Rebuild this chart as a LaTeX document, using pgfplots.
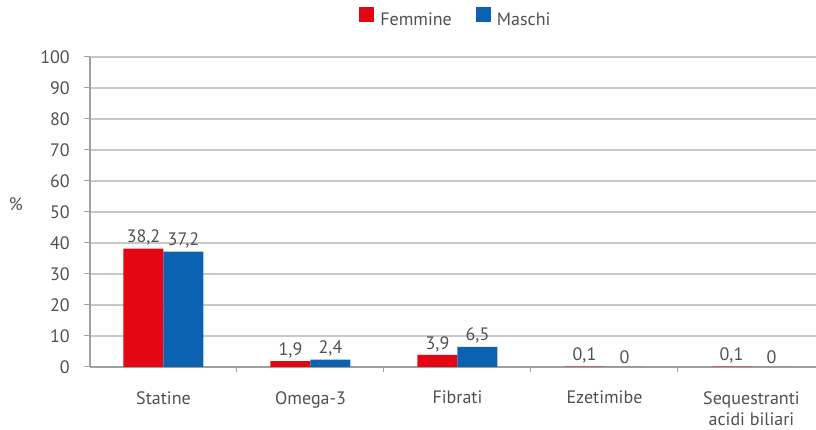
\documentclass[border=0pt]{standalone}
\usepackage{pgfplots}
\pgfplotsset{compat=1.18}
\usepackage{fontspec}
\setmainfont{PT Sans}
\definecolor{fred}{HTML}{E30613}
\definecolor{mblue}{HTML}{0A62B0}
\definecolor{txt}{HTML}{505050}
\definecolor{gridc}{HTML}{C8C8C8}
\definecolor{axc}{HTML}{A0A0A0}
\begin{document}
\fontsize{18}{21}\selectfont
\begin{tikzpicture}[x=1pt,y=1pt]
\useasboundingbox (-90,-63) rectangle (726,367);
\begin{axis}[
  at={(0,0)}, anchor=south west,
  scale only axis, width=726pt, height=310pt,
  ymin=0, ymax=100, ytick={0,10,...,100},
  xmin=-0.5, xmax=4.439,
  ybar=0pt, bar width=40pt,
  xtick={0,1,2,3,4},
  xticklabels={Statine,Omega-3,Fibrati,Ezetimibe,{Sequestranti\\acidi biliari}},
  minor xtick={0.5,1.5,2.5,3.5},
  axis x line*=bottom, axis y line*=left,
  axis line style={-, axc, line width=1.5pt},
  ymajorgrids, grid style={gridc, line width=1.3pt},
  tick align=outside, major tick length=6pt, minor tick length=5pt,
  every major x tick/.style={draw=none},
  every minor x tick/.style={axc, line width=1pt},
  every major y tick/.style={axc, line width=1pt},
  tick label style={text=txt, font=\fontsize{18}{21}\selectfont},
  /pgf/number format/assume math mode=true,
  /pgf/number format/use comma,
  xticklabel style={align=center, yshift=-12pt},
  yticklabel style={xshift=-8pt},
  nodes near coords,
  every node near coord/.append style={text=txt, font=\fontsize{18}{21}\selectfont, yshift=-3pt},
  legend style={at={(0.504,1)}, anchor=center, yshift=38pt, draw=none, fill=none,
    legend columns=2, text=txt, font=\fontsize{18}{21}\selectfont,
    /tikz/every odd column/.append style={column sep=4pt},
    /tikz/every even column/.append style={column sep=22pt}},
  clip=false,
]
\addplot[fill=fred, draw=none, legend image code/.code={\fill[fred] (0pt,-1.5pt) rectangle (15pt,13.5pt);}]
  coordinates {(0,38.2) (1,1.9) (2,3.9) (3,0.1) (4,0.1)};
\addplot[fill=mblue, draw=none, legend image code/.code={\fill[mblue] (0pt,-1.5pt) rectangle (15pt,13.5pt);}]
  coordinates {(0,37.2) (1,2.4) (2,6.5) (3,0) (4,0)};
\legend{Femmine,Maschi}
\node[text=txt, font=\fontsize{18}{21}\selectfont] at (axis description cs:-0.102,0.526) {\%};
\end{axis}
\end{tikzpicture}
\end{document}
